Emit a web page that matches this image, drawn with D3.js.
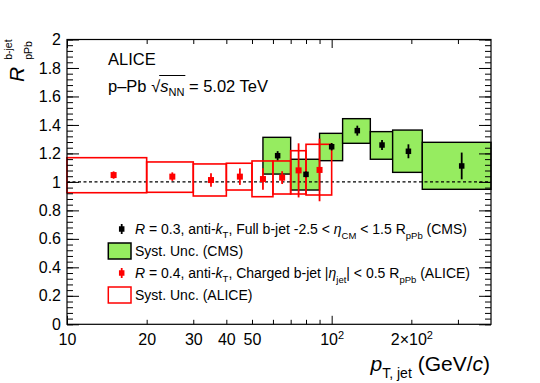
<!DOCTYPE html>
<html><head><meta charset="utf-8">
<script src="https://cdn.jsdelivr.net/npm/d3@7"></script>
<style>
body{margin:0;background:#fff}
svg{display:block}
text{font-family:"Liberation Sans",Arial,Helvetica,sans-serif;fill:#000;white-space:pre}
</style>
</head><body>
<svg id="c" width="540" height="383"></svg>
<script>
// ---- data ----
const cmsBinLo  = [55, 70, 90, 110, 140, 170, 220];
const cmsBinHi  = [70, 90, 110, 140, 170, 220, 400];
const cmsX      = [62.5, 80, 100, 125, 155, 195, 310];
const cmsY      = [1.184, 1.053, 1.247, 1.36, 1.259, 1.215, 1.112];
const cmsStat   = [0.032, 0.02, 0.026, 0.035, 0.035, 0.049, 0.094];
const cmsSysLo  = [1.055, 0.943, 1.149, 1.271, 1.159, 1.067, 0.948];
const cmsSysHi  = [1.313, 1.159, 1.341, 1.444, 1.353, 1.364, 1.278];

const aliceBinLo = [10, 20, 30, 40, 50, 60, 70, 80];
const aliceBinHi = [20, 30, 40, 50, 60, 70, 80, 100];
const aliceX     = [15, 25, 35, 45, 55, 65, 75, 90];
const aliceY     = [1.048, 1.037, 1.013, 1.037, 1.02, 1.03, 1.081, 1.084];
const aliceStat  = [0.026, 0.03, 0.047, 0.058, 0.075, 0.045, 0.19, 0.22];
const aliceSysLo = [0.924, 0.927, 0.901, 0.943, 0.896, 0.915, 0.915, 0.908];
const aliceSysHi = [1.17, 1.14, 1.126, 1.131, 1.147, 1.147, 1.219, 1.264];

const xDomain = [10, 400];
const yDomain = [0, 2];
const xTickValues = [10, 20, 30, 40, 50, 60, 70, 80, 90, 100, 200, 300];
const xLongTicks  = [10, 100];
const xTickLabels = {10: "10", 20: "20", 30: "30", 40: "40", 50: "50", 100: "10^2", 200: "2×10^2"};
const yTickValues = [0, 0.2, 0.4, 0.6, 0.8, 1, 1.2, 1.4, 1.6, 1.8, 2];
const yTickLabels = ["0", "0.2", "0.4", "0.6", "0.8", "1", "1.2", "1.4", "1.6", "1.8", "2"];
const yMinorStep = 0.04;
const refLine = 1;

const legendRows = [
  {kind: "marker", color: "#000", parts: [
    {t: "R", i: 1}, {t: " = 0.3, anti-"}, {t: "k", i: 1}, {t: "T", s: 9.5, dy: 4},
    {t: ", Full b-jet -2.5 < "}, {t: "η", i: 1}, {t: "CM", s: 9.5, dy: 5},
    {t: " < 1.5 R"}, {t: "pPb", s: 9.5, dy: 5}, {t: " (CMS)"}]},
  {kind: "box", fill: "#96ec60", stroke: "#000", parts: [{t: "Syst. Unc. (CMS)"}]},
  {kind: "marker", color: "#f00", parts: [
    {t: "R", i: 1}, {t: " = 0.4, anti-"}, {t: "k", i: 1}, {t: "T", s: 9.5, dy: 4},
    {t: ", Charged b-jet |"}, {t: "η", i: 1}, {t: "jet", s: 9.5, dy: 5},
    {t: "| < 0.5 R"}, {t: "pPb", s: 9.5, dy: 5}, {t: " (ALICE)"}]},
  {kind: "box", fill: "none", stroke: "#f00", parts: [{t: "Syst. Unc. (ALICE)"}]}
];

// ---- layout ----
const PL = 67, PR = 491, PT = 39.5, PB = 324.3;
const svg = d3.select("#c");
const x = d3.scaleLog().domain(xDomain).range([PL, PR]);
const y = d3.scaleLinear().domain(yDomain).range([PB, PT]);

function rich(g, x0, y0, parts, base, anchor) {
  const grp = g.append("g");
  let cx = 0;
  parts.forEach(p => {
    const t = grp.append("text")
      .attr("x", cx + (p.dx || 0)).attr("y", p.dy || 0)
      .attr("xml:space", "preserve")
      .attr("font-size", p.s || base)
      .attr("font-style", p.i ? "italic" : "normal")
      .text(p.t);
    const w = t.node().getComputedTextLength();
    p._x = cx + (p.dx || 0); p._w = w;
    if (!p.stack) cx += (p.dx || 0) + w;
  });
  const shift = anchor === "end" ? -cx : 0;
  grp.attr("transform", `translate(${x0 + shift},${y0})`);
  return {grp, width: cx, shift};
}

// ---- systematic boxes ----
const gPlot = svg.append("g");
gPlot.selectAll("rect.cms").data(cmsX).join("rect")
  .attr("x", (d, i) => x(cmsBinLo[i]))
  .attr("width", (d, i) => x(cmsBinHi[i]) - x(cmsBinLo[i]))
  .attr("y", (d, i) => y(cmsSysHi[i]))
  .attr("height", (d, i) => y(cmsSysLo[i]) - y(cmsSysHi[i]))
  .attr("fill", "#96ec60").attr("stroke", "#000").attr("stroke-width", 1.4);

// reference line
gPlot.append("line")
  .attr("x1", x(xDomain[0])).attr("x2", x(xDomain[1]))
  .attr("y1", y(refLine)).attr("y2", y(refLine))
  .attr("stroke", "#000").attr("stroke-width", 1.4).attr("stroke-dasharray", "3,2.5");

gPlot.selectAll("rect.al").data(aliceX).join("rect")
  .attr("x", (d, i) => x(aliceBinLo[i]))
  .attr("width", (d, i) => x(aliceBinHi[i]) - x(aliceBinLo[i]))
  .attr("y", (d, i) => y(aliceSysHi[i]))
  .attr("height", (d, i) => y(aliceSysLo[i]) - y(aliceSysHi[i]))
  .attr("fill", "none").attr("stroke", "#f00").attr("stroke-width", 1.6);

// ---- points ----
function points(xs, ys, es, color, size) {
  const g = gPlot.append("g");
  g.selectAll("line").data(xs).join("line")
    .attr("x1", d => x(d)).attr("x2", d => x(d))
    .attr("y1", (d, i) => y(ys[i] + es[i])).attr("y2", (d, i) => y(ys[i] - es[i]))
    .attr("stroke", color).attr("stroke-width", 1.8);
  g.selectAll("rect").data(xs).join("rect")
    .attr("x", d => x(d) - size / 2).attr("y", (d, i) => y(ys[i]) - size / 2)
    .attr("width", size).attr("height", size).attr("fill", color);
}
points(cmsX, cmsY, cmsStat, "#000", 5.5);
points(aliceX, aliceY, aliceStat, "#f00", 6);

// ---- axes ----
const axG = svg.append("g");
const yMinor = d3.range(yDomain[0], yDomain[1] + 1e-9, yMinorStep);
// left
axG.append("g").attr("transform", `translate(${PL},0)`)
  .call(d3.axisLeft(y).tickValues(yMinor).tickSize(-6).tickFormat("").tickSizeOuter(0))
  .call(g => g.select(".domain").remove());
axG.append("g").attr("transform", `translate(${PL},0)`)
  .call(d3.axisLeft(y).tickValues(yTickValues).tickSize(-12).tickPadding(6)
    .tickFormat((d, i) => yTickLabels[i]).tickSizeOuter(0))
  .call(g => g.select(".domain").remove())
  .call(g => g.selectAll("text").attr("font-size", 16).attr("font-family", null));
// right
axG.append("g").attr("transform", `translate(${PR},0)`)
  .call(d3.axisRight(y).tickValues(yMinor).tickSize(-6).tickFormat("").tickSizeOuter(0))
  .call(g => g.select(".domain").remove());
axG.append("g").attr("transform", `translate(${PR},0)`)
  .call(d3.axisRight(y).tickValues(yTickValues).tickSize(-12).tickFormat("").tickSizeOuter(0))
  .call(g => g.select(".domain").remove());
// bottom
const botAx = axG.append("g").attr("transform", `translate(0,${PB})`)
  .call(d3.axisBottom(x).tickValues(xTickValues).tickSize(-4.5).tickPadding(9)
    .tickFormat(d => xTickLabels[d] || "").tickSizeOuter(0))
  .call(g => g.select(".domain").remove());
botAx.selectAll(".tick line").attr("y2", d => xLongTicks.includes(d) ? -8.5 : -4.5);
botAx.selectAll(".tick text").attr("font-size", 16).attr("font-family", null).each(function(d) {
  const lab = xTickLabels[d];
  if (lab && lab.includes("^")) {
    const [a, b] = lab.split("^");
    const el = d3.select(this).text("");
    el.append("tspan").text(a);
    el.append("tspan").attr("font-size", 11).attr("dy", "-0.55em").text(b);
  }
});
// top
const topAx = axG.append("g").attr("transform", `translate(0,${PT})`)
  .call(d3.axisTop(x).tickValues(xTickValues).tickSize(-4.5).tickFormat("").tickSizeOuter(0))
  .call(g => g.select(".domain").remove());
topAx.selectAll(".tick line").attr("y2", d => xLongTicks.includes(d) ? 8.5 : 4.5);
axG.selectAll(".tick line").attr("stroke", "#000").attr("stroke-width", 1);

// frame
svg.append("rect").attr("x", PL).attr("y", PT).attr("width", PR - PL).attr("height", PB - PT)
  .attr("fill", "none").attr("stroke", "#000").attr("stroke-width", 1.2);

// ---- titles ----
rich(svg, 490, 371, [
  {t: "p", i: 1}, {t: "T, jet", s: 14, dy: 7}, {t: " (GeV/"}, {t: "c", i: 1}, {t: ")"}], 21, "end");

const yt = svg.append("g").attr("transform", "translate(24,82) rotate(-90)");
rich(yt, 0, 0, [
  {t: "R", i: 1, s: 21},
  {t: "b-jet", s: 10.5, dy: -12, dx: 7, stack: 1},
  {t: "pPb", s: 10.5, dy: 8, dx: 7}], 21, "start");

svg.append("text").attr("x", 108).attr("y", 65).attr("font-size", 16.5).text("ALICE");
const line2 = [{t: "p–Pb "}, {t: "√"}, {t: "s", i: 1}, {t: "NN", s: 11, dy: 4}, {t: " = 5.02 TeV"}];
const r2 = rich(svg, 108, 91.5, line2, 16.5, "start");
r2.grp.append("line")
  .attr("x1", line2[1]._x + line2[1]._w - 1).attr("x2", line2[3]._x + line2[3]._w + 1)
  .attr("y1", -16).attr("y2", -16).attr("stroke", "#000").attr("stroke-width", 1);

// ---- legend ----
const legY = [229, 251, 273, 295];
const legG = svg.append("g");
legendRows.forEach((row, i) => {
  const cy = legY[i];
  if (row.kind === "marker") {
    legG.append("line").attr("x1", 121.7).attr("x2", 121.7).attr("y1", cy - 5).attr("y2", cy + 5)
      .attr("stroke", row.color).attr("stroke-width", 1.8);
    legG.append("rect").attr("x", 121.7 - 2.75).attr("y", cy - 2.75).attr("width", 5.5).attr("height", 5.5)
      .attr("fill", row.color);
  } else {
    legG.append("rect").attr("x", 108.3).attr("y", cy - 8).attr("width", 22.7).attr("height", 16)
      .attr("fill", row.fill).attr("stroke", row.stroke).attr("stroke-width", 1.5);
  }
  rich(legG, 135, cy + 5, row.parts, 14, "start");
});
</script>
</body></html>
